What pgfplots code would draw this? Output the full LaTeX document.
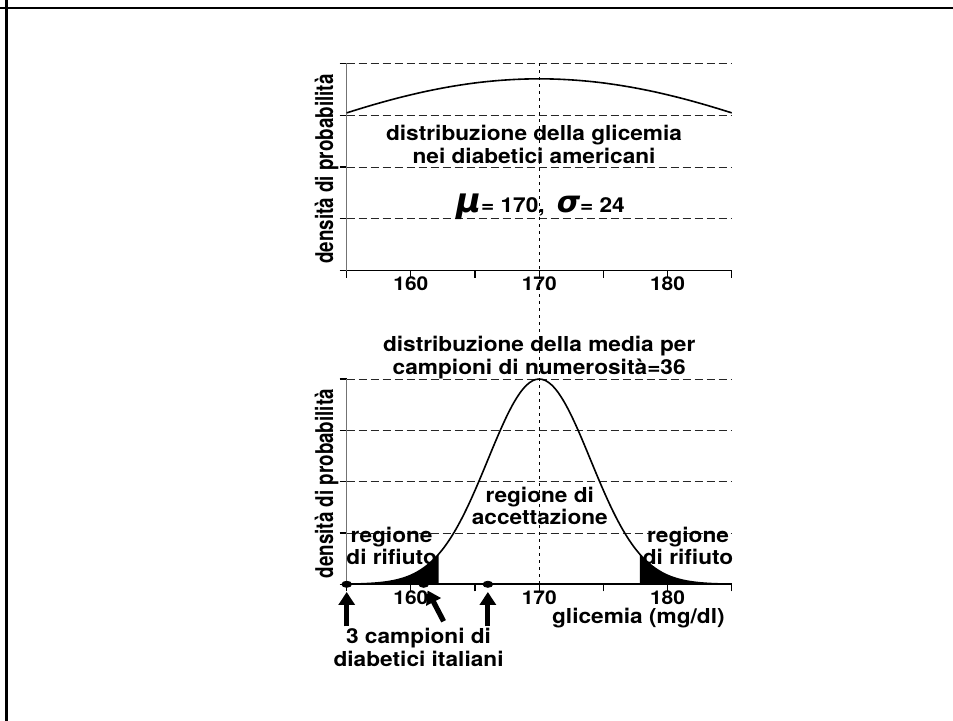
\documentclass[border=0pt]{standalone}
\usepackage{fontspec}
\setmainfont{TeX Gyre Heros}[FakeStretch=1.1]
\newfontfamily\heros{TeX Gyre Heros}
\newfontfamily\dvs{DejaVu Sans}
\usepackage{pgfplots}
\pgfplotsset{compat=1.18}
\usetikzlibrary{arrows.meta}

\newcommand{\tf}{\bfseries\fontsize{10.3}{11.5}\selectfont}
\newcommand{\tfa}{\bfseries\fontsize{10.3}{9.7}\selectfont}
\newcommand{\tfb}{\bfseries\fontsize{10.3}{8.6}\selectfont}

\pgfplotsset{
  myaxis/.style={
    scale only axis,
    anchor=south west,
    width=192.5pt,
    xmin=155, xmax=185,
    ymin=0, ymax=4,
    axis lines=left,
    axis line style={-},
    x axis line style={black, line width=0.8pt},
    y axis line style={black!55, line width=0.6pt},
    xtick={155,160,165,170,175,180,185},
    xticklabels={,160,,170,,180,},
    ytick={0,1,2,3,4},
    yticklabels={},
    tick align=outside,
    major tick length=3.5pt,
    tick style={black, line width=0.6pt},
    ymajorgrids,
    grid style={black!85, line width=0.45pt, dash pattern=on 4pt off 2pt},
    xticklabel style={font=\bfseries\fontsize{9.5}{10}\selectfont, yshift=4pt},
    every axis y label/.style={at={(axis description cs:-0.052,0.49)}, rotate=90, anchor=center,
       font=\heros\bfseries\fontsize{9.4}{11}\selectfont},
    ylabel={\scalebox{1}[1.3]{densità di probabilità}},
    clip=false,
  }
}

\begin{document}
\begin{tikzpicture}
\useasboundingbox (0,0) rectangle (476.5pt,360.5pt);
\draw[line width=1.4pt] (0,356.5pt) -- (476.5pt,356.5pt);
\draw[line width=1.4pt] (3.15pt,0) -- (3.15pt,360.5pt);

% top axis
\begin{axis}[myaxis, at={(173.35pt,225.15pt)}, height=103.7pt]
\addplot[black, line width=0.8pt, smooth] coordinates {
(155,3.044) (156,3.121) (157,3.195) (158,3.265) (159,3.331) (160,3.392)
(161,3.449) (162,3.500) (163,3.546) (164,3.586) (165,3.621) (166,3.649)
(167,3.671) (168,3.687) (169,3.697) (170,3.700) (171,3.697) (172,3.687)
(173,3.671) (174,3.649) (175,3.621) (176,3.586) (177,3.546) (178,3.500)
(179,3.449) (180,3.392) (181,3.331) (182,3.265) (183,3.195) (184,3.121)
(185,3.044)};
\coordinate (T) at (axis cs:170,4);
\node[font=\tf, align=center] at (axis cs:169.6,2.44)
  {distribuzione della glicemia\\nei diabetici americani};
\node[font=\tf] at (axis cs:170.1,1.23)
  {{\dvs\bfseries\itshape\fontsize{17}{17}\selectfont μ}= 170,\hspace{6pt}{\dvs\bfseries\itshape\fontsize{15}{15}\selectfont σ}= 24};
\end{axis}

% bottom axis
\begin{axis}[myaxis, at={(173.35pt,68.35pt)}, height=102.65pt]
\addplot[fill=black, draw=none] coordinates {
(155,0.0035) (155.5,0.0056) (156,0.0087) (156.5,0.0135) (157,0.0204) (157.5,0.0303)
(158,0.0444) (158.5,0.0642) (159,0.0912) (159.5,0.1276) (160,0.1757) (160.5,0.2383)
(161,0.3182) (161.5,0.4184) (162,0.5413) (162.16,0.5860)} \closedcycle;
\addplot[fill=black, draw=none] coordinates {
(177.84,0.5860) (178,0.5413) (178.5,0.4184) (179,0.3182) (179.5,0.2383) (180,0.1757)
(180.5,0.1276) (181,0.0912) (181.5,0.0642) (182,0.0444) (182.5,0.0303) (183,0.0204)
(183.5,0.0135) (184,0.0087) (184.5,0.0056) (185,0.0035)} \closedcycle;
\addplot[black, line width=0.8pt, smooth] coordinates {
(155,0.0035) (155.5,0.0056) (156,0.0087) (156.5,0.0135) (157,0.0204) (157.5,0.0303)
(158,0.0444) (158.5,0.0642) (159,0.0912) (159.5,0.1276) (160,0.1757) (160.5,0.2383)
(161,0.3182) (161.5,0.4184) (162,0.5413) (162.5,0.6897) (163,0.8651) (163.5,1.0683)
(164,1.2986) (164.5,1.5542) (165,1.8313) (165.5,2.1244) (166,2.4261) (166.5,2.7278)
(167,3.0194) (167.5,3.2903) (168,3.5300) (168.5,3.7284) (169,3.8769) (169.5,3.9689)
(170,4.0000)
(170.5,3.9689) (171,3.8769) (171.5,3.7284) (172,3.5300) (172.5,3.2903) (173,3.0194)
(173.5,2.7278) (174,2.4261) (174.5,2.1244) (175,1.8313) (175.5,1.5542) (176,1.2986)
(176.5,1.0683) (177,0.8651) (177.5,0.6897) (178,0.5413) (178.5,0.4184) (179,0.3182)
(179.5,0.2383) (180,0.1757) (180.5,0.1276) (181,0.0912) (181.5,0.0642) (182,0.0444)
(182.5,0.0303) (183,0.0204) (183.5,0.0135) (184,0.0087) (184.5,0.0056) (185,0.0035)};
% three Italian samples
\addplot[only marks, mark=*, mark size=1.8pt, mark options={xscale=1.35, yscale=0.85, fill=black}] coordinates {
(155,0) (161,0) (166,0)};
\coordinate (B) at (axis cs:170,0);
% arrows
\draw[line width=2.6pt, -{Triangle[length=6.5pt,width=8pt]}] (axis cs:155,-0.82) -- (axis cs:155,-0.15);
\draw[line width=2.6pt, -{Triangle[length=6.5pt,width=8pt]}] (axis cs:166,-0.82) -- (axis cs:166,-0.15);
\draw[line width=2.6pt, -{Triangle[length=6.5pt,width=8pt]}] (axis cs:162.55,-0.72) -- (axis cs:161.3,-0.12);
% texts
\node[font=\tf, align=center] at (axis cs:170,4.42)
  {distribuzione della media per\\campioni di numerosità=36};
\node[font=\tfa, align=center] at (axis cs:170.05,1.53)
  {regione di\\accettazione};
\node[font=\tfb, align=center] at (axis cs:158.5,0.74)
  {regione\\di rifiuto};
\node[font=\tfb, align=center] at (axis cs:181.6,0.74)
  {regione\\di rifiuto};
\node[font=\tf, anchor=east] at (axis cs:185,-0.66)
  {glicemia (mg/dl)};
\node[font=\tf, align=center] at (axis cs:160.6,-1.23)
  {3 campioni di\\diabetici italiani};
\end{axis}

\draw[black, line width=0.7pt, dash pattern=on 1.3pt off 2.2pt] (T) -- (B);
\end{tikzpicture}
\end{document}
